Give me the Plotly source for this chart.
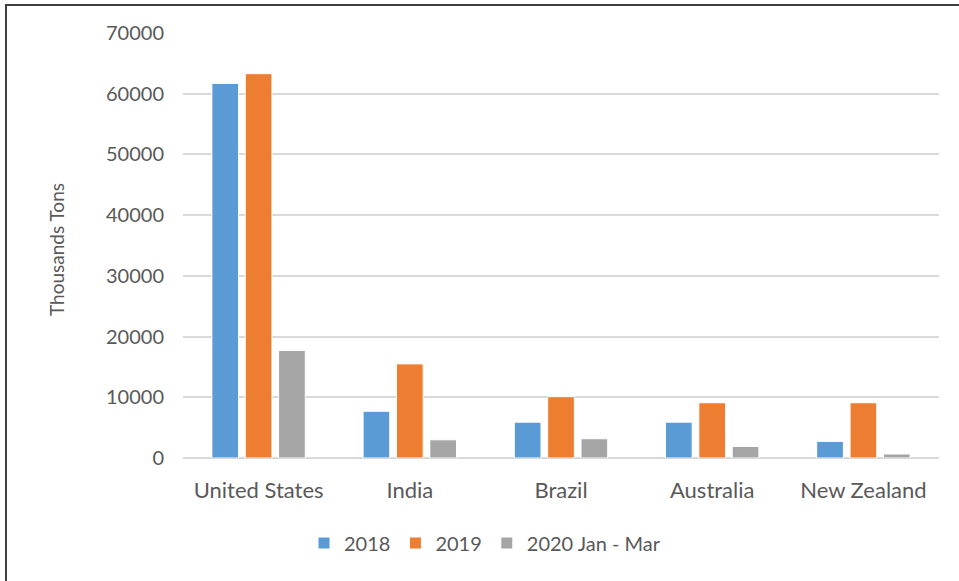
import plotly.graph_objects as go

categories = ["United States", "India", "Brazil", "Australia", "New Zealand"]
series_names = ["2018", "2019", "2020 Jan - Mar"]
values_2018 = [61700, 7700, 5900, 5900, 2730]
values_2019 = [63300, 15500, 10100, 9100, 9100]
values_2020 = [17700, 3000, 3170, 1900, 660]
colors = ["#5B9BD5", "#ED7D31", "#A5A5A5"]
y_ticks = [0, 10000, 20000, 30000, 40000, 50000, 60000, 70000]

W, H = 959, 581
L, R, T, B = 183, 20, 33, 123
pw, ph = W - L - R, H - T - B

def px_x(px):
    return (px - L) / pw

def px_y(py):
    return (H - B - py) / ph

fig = go.Figure()
for name, vals, col in zip(series_names, [values_2018, values_2019, values_2020], colors):
    fig.add_trace(go.Bar(
        x=categories, y=vals, name=name,
        marker=dict(color=col, line=dict(color="white", width=1)),
    ))

font_family = "Lato, Calibri, 'Open Sans', sans-serif"
fig.update_layout(
    width=W, height=H,
    margin=dict(l=L, r=R, t=T, b=B, autoexpand=False),
    paper_bgcolor="white", plot_bgcolor="white",
    barmode="group", bargap=0.338, bargroupgap=0.2,
    font=dict(family=font_family, color="#595959", size=20),
    showlegend=True,
    legend=dict(orientation="h", x=px_x(485), y=px_y(543), xanchor="center", yanchor="middle",
                font=dict(size=20, color="#595959"), itemwidth=30, traceorder="normal"),
    xaxis=dict(showgrid=False, showline=False, ticks="", tickfont=dict(size=22, color="#595959"),
               ticklabelstandoff=17),
    yaxis=dict(range=[0, 70000], tickvals=y_ticks, ticktext=[str(v) for v in y_ticks],
               showgrid=True, gridcolor="#D9D9D9", gridwidth=2, zeroline=True, zerolinecolor="#D9D9D9",
               zerolinewidth=2, showline=False, ticks="", tickfont=dict(size=20, color="#595959"),
               ticklabelstandoff=18),
    annotations=[dict(text="Thousands Tons", xref="paper", yref="paper", x=px_x(57), y=px_y(250),
                      textangle=-90, showarrow=False, font=dict(size=19, color="#595959"),
                      xanchor="center", yanchor="middle")],
    shapes=[
        dict(type="line", xref="paper", yref="paper", x0=px_x(5), x1=px_x(959), y0=px_y(5), y1=px_y(5),
             line=dict(color="#404040", width=2)),
        dict(type="line", xref="paper", yref="paper", x0=px_x(6), x1=px_x(6), y0=px_y(5), y1=px_y(581),
             line=dict(color="#404040", width=2)),
    ],
)

fig.write_html("out.html", config={"displayModeBar": False},
               post_script="document.body.style.margin='0';document.body.style.overflow='hidden';")
